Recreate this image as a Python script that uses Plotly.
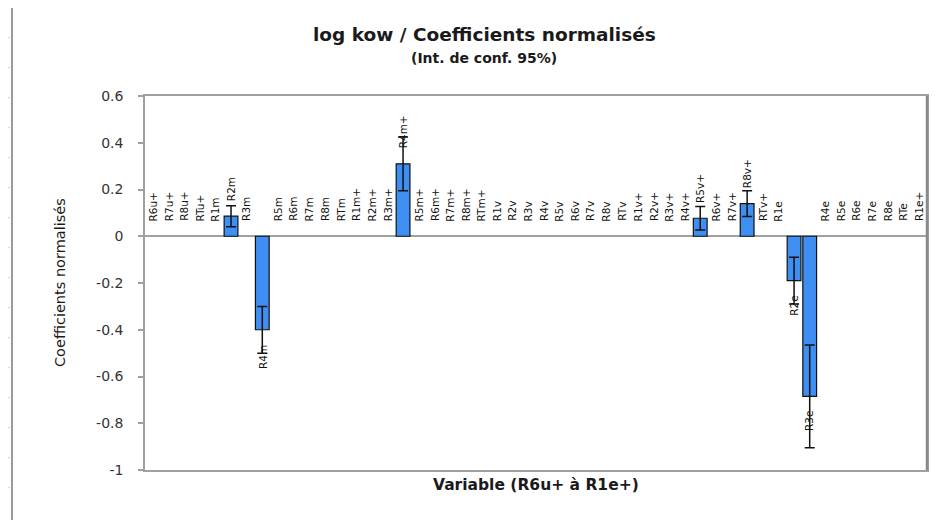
import numpy as np
import plotly.graph_objects as go

categories = ["R6u+", "R7u+", "R8u+", "RTu+", "R1m", "R2m", "R3m", "R4m", "R5m", "R6m",
              "R7m", "R8m", "RTm", "R1m+", "R2m+", "R3m+", "R4m+", "R5m+", "R6m+", "R7m+",
              "R8m+", "RTm+", "R1v", "R2v", "R3v", "R4v", "R5v", "R6v", "R7v", "R8v",
              "RTv", "R1v+", "R2v+", "R3v+", "R4v+", "R5v+", "R6v+", "R7v+", "R8v+", "RTv+",
              "R1e", "R2e", "R3e", "R4e", "R5e", "R6e", "R7e", "R8e", "RTe", "R1e+"]

values = [0, 0, 0, 0, 0, 0.086, 0, -0.40, 0, 0,
          0, 0, 0, 0, 0, 0, 0.31, 0, 0, 0,
          0, 0, 0, 0, 0, 0, 0, 0, 0, 0,
          0, 0, 0, 0, 0, 0.077, 0, 0, 0.14, 0,
          0, -0.19, -0.685, 0, 0, 0, 0, 0, 0, 0]

errors = [0, 0, 0, 0, 0, 0.045, 0, 0.10, 0, 0,
          0, 0, 0, 0, 0, 0, 0.115, 0, 0, 0,
          0, 0, 0, 0, 0, 0, 0, 0, 0, 0,
          0, 0, 0, 0, 0, 0.05, 0, 0, 0.055, 0,
          0, 0.10, 0.22, 0, 0, 0, 0, 0, 0, 0]

y_ticks = [0.6, 0.4, 0.2, 0, -0.2, -0.4, -0.6, -0.8, -1]
y_tick_text = ["0.6", "0.4", "0.2", "0", "-0.2", "-0.4", "-0.6", "-0.8", "-1"]

# page offset (body margin) compensation
OFF = 8
W, H = 951, 520
L, T = 145 - OFF, 96 - OFF
R = W - (927 - OFF)
B = H - (470 - OFF)
pw, ph = W - L - R, H - T - B


def px_x(x):
    return (x - OFF - L) / pw


def px_y(y):
    return (H - B - (y - OFF)) / ph


# zero-error entries become NaN so no cap is drawn for empty bars
err_arr = np.array([e if e else np.nan for e in errors], dtype=float)

fig = go.Figure()
fig.add_trace(go.Bar(
    x=categories, y=values,
    marker=dict(color="#3f8ef2",
                line=dict(color="#111111", width=[1.2 if v != 0 else 0 for v in values])),
    error_y=dict(type="data", array=err_arr,
                 visible=True, color="#111111", thickness=1.5, width=5),
    showlegend=False,
))

LBL_FONT = dict(family="DejaVu Sans", size=10.5, color="#111")
annotations = []
for c, v in zip(categories, values):
    if v >= 0:
        annotations.append(dict(x=c, y=v, xref="x", yref="y", text=c, showarrow=False,
                                textangle=-90, yanchor="bottom", xanchor="center",
                                yshift=13, font=LBL_FONT))
    else:
        annotations.append(dict(x=c, y=v, xref="x", yref="y", text=c, showarrow=False,
                                textangle=-90, yanchor="top", xanchor="center",
                                yshift=-13, font=LBL_FONT))

annotations.append(dict(x=px_x(484), y=px_y(34), xref="paper", yref="paper",
                        text="<b>log kow / Coefficients normalisés</b>", showarrow=False,
                        xanchor="center", yanchor="middle",
                        font=dict(family="DejaVu Sans", size=18.5, color="#1a1a1a")))
annotations.append(dict(x=px_x(484), y=px_y(58), xref="paper", yref="paper",
                        text="<b>(Int. de conf. 95%)</b>", showarrow=False,
                        xanchor="center", yanchor="middle",
                        font=dict(family="DejaVu Sans", size=14, color="#1a1a1a")))
annotations.append(dict(x=px_x(536), y=px_y(485), xref="paper", yref="paper",
                        text="<b>Variable (R6u+ à R1e+)</b>", showarrow=False,
                        xanchor="center", yanchor="middle",
                        font=dict(family="DejaVu Sans", size=15.5, color="#1a1a1a")))
annotations.append(dict(x=px_x(60), y=0.5, xref="paper", yref="paper",
                        text="Coefficients normalisés", showarrow=False, textangle=-90,
                        xanchor="center", yanchor="middle",
                        font=dict(family="DejaVu Sans", size=14.5, color="#1a1a1a")))

shapes = []
# chart frame
shapes.append(dict(type="line", xref="paper", yref="paper",
                   x0=px_x(12), x1=px_x(12), y0=px_y(7), y1=px_y(H + OFF),
                   line=dict(color="#9a9a9a", width=2)))
shapes.append(dict(type="line", xref="paper", yref="paper",
                   x0=px_x(12), x1=px_x(W + OFF), y0=px_y(7), y1=px_y(7),
                   line=dict(color="#9a9a9a", width=2)))
# worksheet grid marks outside the chart
for k in range(17):
    yy = 7.7 + 30 * k
    shapes.append(dict(type="line", xref="paper", yref="paper",
                       x0=px_x(2), x1=px_x(10), y0=px_y(yy), y1=px_y(yy),
                       line=dict(color="#c8d0e0", width=1)))
for k in range(6):
    xx = 106 + 160 * k
    shapes.append(dict(type="line", xref="paper", yref="paper",
                       x0=px_x(xx), x1=px_x(xx), y0=px_y(0), y1=px_y(5),
                       line=dict(color="#c8d0e0", width=1)))
# right border shadow
shapes.append(dict(type="line", xref="paper", yref="paper",
                   x0=1.0, x1=1.0, y0=0, y1=1,
                   line=dict(color="#8a8a8a", width=2.5)))

fig.update_layout(
    width=W, height=H,
    margin=dict(l=L, r=R, t=T, b=B, autoexpand=False),
    paper_bgcolor="white", plot_bgcolor="white",
    bargap=0.12,
    annotations=annotations,
    shapes=shapes,
    xaxis=dict(showticklabels=False, ticks="", showgrid=False, zeroline=False,
               showline=True, mirror=True, linecolor="#a0a0a0", linewidth=1.5,
               range=[-0.5, len(categories) - 0.5]),
    yaxis=dict(range=[-1, 0.6], tickvals=y_ticks, ticktext=y_tick_text,
               ticks="outside", ticklen=5, tickcolor="#a0a0a0", tickwidth=1.5,
               showgrid=False, zeroline=True, zerolinecolor="#a0a0a0", zerolinewidth=1.5,
               showline=True, mirror=True, linecolor="#a0a0a0", linewidth=1.5,
               ticklabelstandoff=12,
               tickfont=dict(family="DejaVu Sans", size=14, color="#333")),
)

fig.write_html("out.html")
